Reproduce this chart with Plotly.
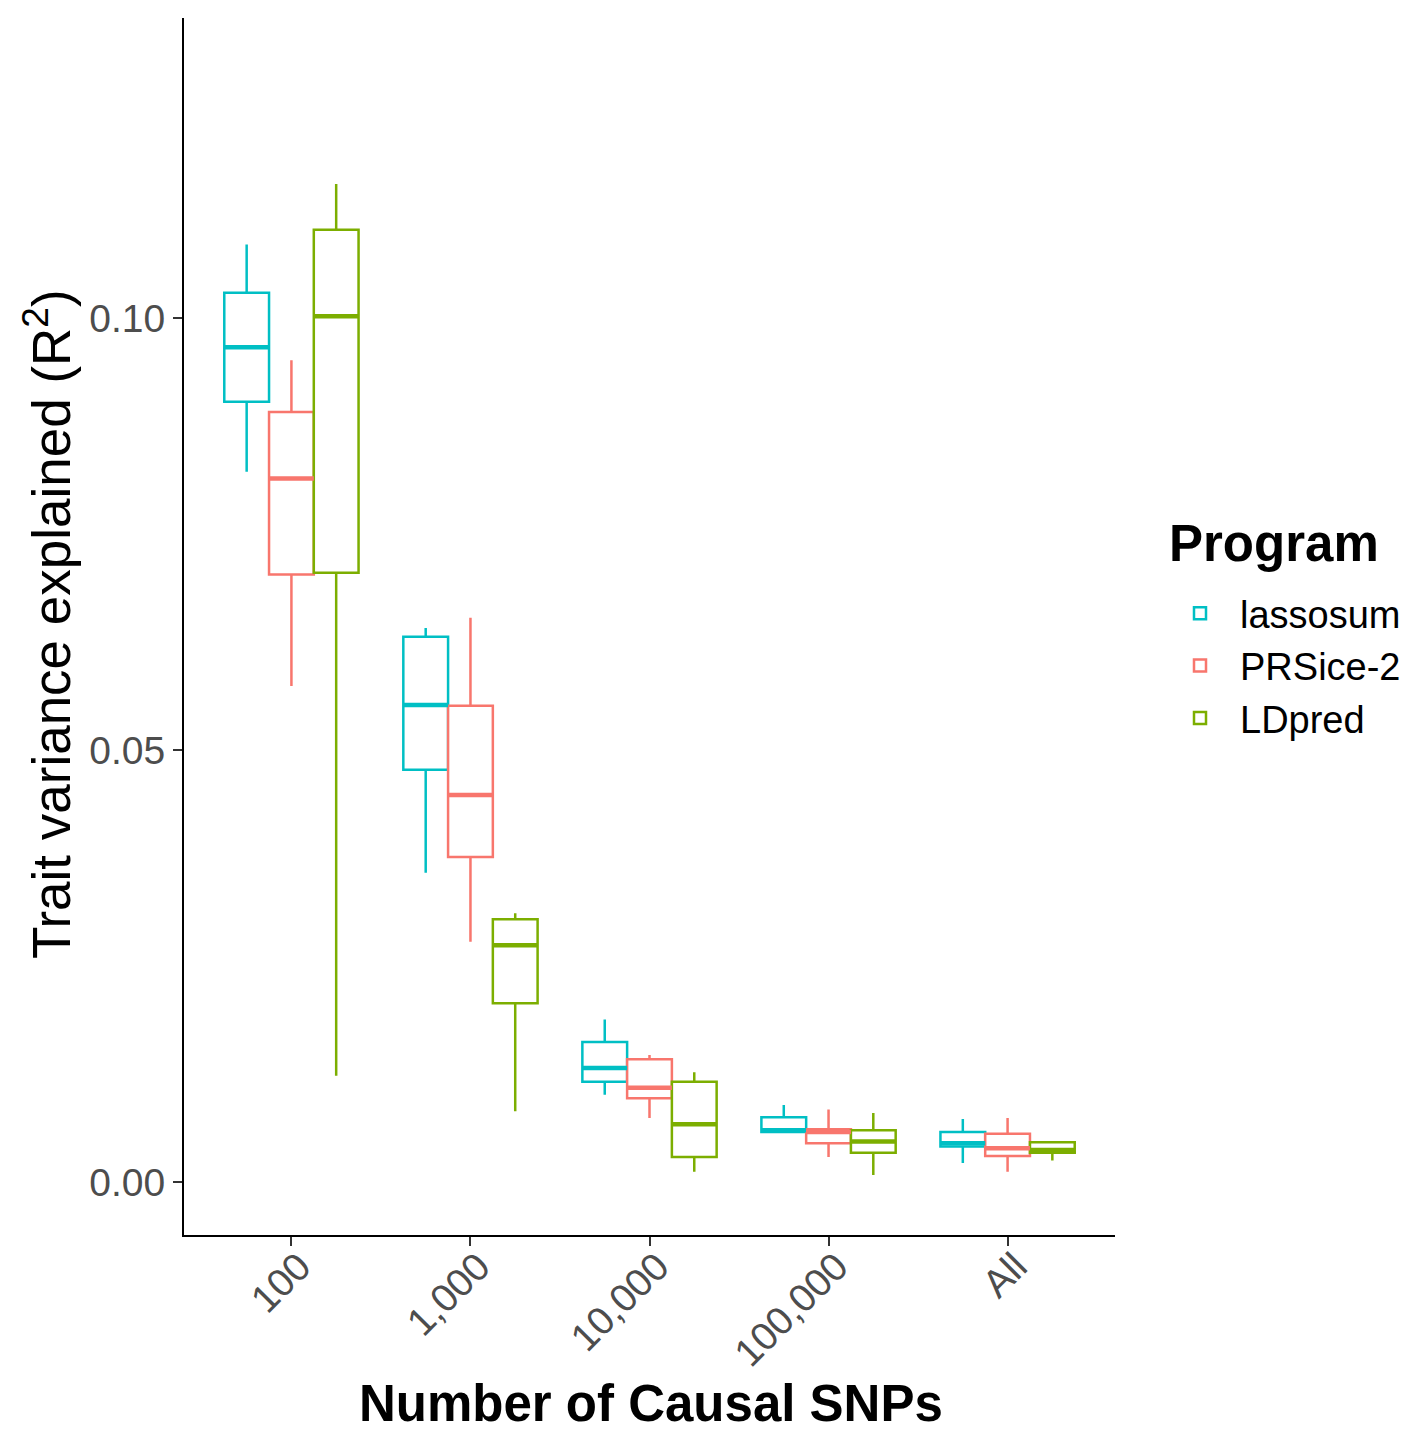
import plotly.graph_objects as go

categories = ["100", "1,000", "10,000", "100,000", "All"]
programs = ["lassosum", "PRSice-2", "LDpred"]
colors = ["#00BFC4", "#F8766D", "#7CAE00"]

lassosum_lower = [0.0822, 0.0358, 0.0101, 0.0057, 0.0022]
lassosum_q1 = [0.0903, 0.0477, 0.0116, 0.0058, 0.0041]
lassosum_med = [0.0966, 0.0552, 0.0132, 0.0060, 0.0045]
lassosum_q3 = [0.1029, 0.0631, 0.0162, 0.0075, 0.0058]
lassosum_upper = [0.1085, 0.0641, 0.0188, 0.0089, 0.0073]

prsice_lower = [0.0574, 0.0278, 0.0074, 0.0029, 0.0012]
prsice_q1 = [0.0703, 0.0376, 0.0097, 0.0045, 0.0030]
prsice_med = [0.0814, 0.0448, 0.0109, 0.0058, 0.0039]
prsice_q3 = [0.0891, 0.0551, 0.0142, 0.0061, 0.0056]
prsice_upper = [0.0951, 0.0653, 0.0147, 0.0084, 0.0074]

ldpred_lower = [0.0123, 0.0082, 0.0012, 0.0008, 0.0025]
ldpred_q1 = [0.0705, 0.0207, 0.0029, 0.0034, 0.0034]
ldpred_med = [0.1002, 0.0274, 0.0067, 0.0047, 0.0037]
ldpred_q3 = [0.1102, 0.0304, 0.0116, 0.0060, 0.0046]
ldpred_upper = [0.1155, 0.0311, 0.0127, 0.0080, 0.0047]

stats = [
    (lassosum_lower, lassosum_q1, lassosum_med, lassosum_q3, lassosum_upper),
    (prsice_lower, prsice_q1, prsice_med, prsice_q3, prsice_upper),
    (ldpred_lower, ldpred_q1, ldpred_med, ldpred_q3, ldpred_upper),
]

fig = go.Figure()
for i, (name, col, st) in enumerate(zip(programs, colors, stats)):
    lo, q1, med, q3, up = st
    fig.add_trace(go.Box(
        name=name, x=categories, q1=q1, median=med, q3=q3,
        lowerfence=lo, upperfence=up,
        line=dict(color=col, width=2.5), fillcolor="white",
        whiskerwidth=0, offsetgroup=str(i), alignmentgroup="g",
        boxpoints=False, showlegend=True,
    ))
for i, (name, col, st) in enumerate(zip(programs, colors, stats)):
    lo, q1, med, q3, up = st
    fig.add_trace(go.Box(
        name=name, x=categories, q1=med, median=med, q3=med,
        lowerfence=med, upperfence=med,
        line=dict(color=col, width=4.5), fillcolor="rgba(0,0,0,0)",
        whiskerwidth=0, offsetgroup=str(i), alignmentgroup="g",
        boxpoints=False, showlegend=False, hoverinfo="skip",
    ))

font = "Liberation Sans, Arial, Helvetica, sans-serif"
OFF = 8  # default page body margin
FW, FH = 1414 - OFF, 1432 - OFF
# plot area in screen pixels
L, R, T, B = 184, 1115, 18, 1235
W, H = R - L, B - T
def px(x):
    return (x - L) / W
def py(y):
    return (B - y) / H

fig.update_layout(
    width=FW, height=FH,
    margin=dict(l=L - OFF, r=FW - (R - OFF), t=T - OFF, b=FH - (B - OFF), autoexpand=False),
    paper_bgcolor="white", plot_bgcolor="white",
    boxmode="group", boxgap=0.25, boxgroupgap=0,
    font=dict(family=font, color="black"),
    legend=dict(
        font=dict(size=38, color="black"),
        x=px(1160), xanchor="left", y=py(582), yanchor="top",
        itemwidth=70,
        bgcolor="rgba(0,0,0,0)", tracegroupgap=0,
    ),
    annotations=[
        dict(text="<b>Program</b>", x=px(1167), y=py(543), xref="paper", yref="paper",
             xanchor="left", yanchor="middle", showarrow=False,
             font=dict(size=51, color="black", family=font)),
        dict(text="<b>Number of Causal SNPs</b>", x=px(651), y=py(1403), xref="paper", yref="paper",
             xanchor="center", yanchor="middle", showarrow=False,
             font=dict(size=51, color="black", family=font)),
        dict(text="Trait variance explained (R<sup>2</sup>)", x=px(47), y=py(624), xref="paper", yref="paper",
             xanchor="center", yanchor="middle", showarrow=False, textangle=-90,
             font=dict(size=53, color="black", family=font)),
    ],
)
fig.update_xaxes(
    categoryorder="array", categoryarray=categories,
    range=[-0.6, 4.6], automargin=False,
    showline=True, linecolor="black", linewidth=2, mirror=False,
    ticks="outside", ticklen=9, tickwidth=2, tickcolor="#333333",
    tickangle=-45, ticklabelstandoff=-18, ticklabelshift=8,
    tickfont=dict(size=39, color="#4D4D4D", family=font),
    showgrid=False, zeroline=False,
)
fig.update_yaxes(
    range=[-0.00613, 0.1347], automargin=False,
    tickvals=[0, 0.05, 0.10], ticktext=["0.00", "0.05", "0.10"],
    showline=True, linecolor="black", linewidth=2, mirror=False,
    ticks="outside", ticklen=9, tickwidth=2, tickcolor="#333333",
    tickfont=dict(size=39, color="#4D4D4D", family=font),
    showgrid=False, zeroline=False,
)
fig.write_html("out.html")
